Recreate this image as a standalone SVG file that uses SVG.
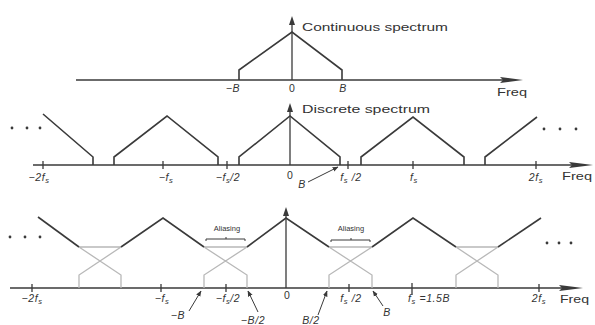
<svg xmlns="http://www.w3.org/2000/svg" width="595" height="325" viewBox="0 0 595 325">
<defs>
<style>
.ax{stroke:#3a3a3a;stroke-width:1.3;fill:none}
.sp{stroke:#3a3a3a;stroke-width:1.6;fill:none;stroke-linejoin:miter}
.gr{stroke:#b8b8b8;stroke-width:1.3;fill:none}
.tk{stroke:#3a3a3a;stroke-width:1.3}
.hd{fill:#3a3a3a;stroke:none}
.t{font-family:"Liberation Sans",Arial,sans-serif;fill:#333333}
.title{font-size:11.5px}
.lab{font-size:10.5px;font-style:italic;letter-spacing:0.6px}
.zero{font-size:10.5px}
.freq{font-size:11px}
.al{font-size:7.5px}
.sub{font-size:7.5px}
.ann{stroke:#3a3a3a;stroke-width:1;fill:none}
.dot{fill:#3a3a3a}
</style>
<marker id="ah" viewBox="0 0 10 10" refX="9" refY="5" markerWidth="6" markerHeight="6" orient="auto">
<path d="M0,1 L10,5 L0,9 Z" fill="#3a3a3a"/>
</marker>
</defs>
<rect width="595" height="325" fill="#ffffff"/>

<!-- TOP: continuous spectrum -->
<g id="top-axis">
<line class="ax" x1="76" y1="80" x2="510" y2="80"/>
<polygon class="hd" points="523,80 500,77 503,80 500,83"/>
<line class="ax" x1="292" y1="80" x2="292" y2="22"/>
<polygon class="hd" points="292,16 289,25 295,25"/>
</g>
<g id="top-spectrum">
<path class="sp" d="M239,80 V70 L292,32 L342,70 V80"/>
</g>
<g id="top-labels">
<text class="t title" x="302" y="31" textLength="146" lengthAdjust="spacingAndGlyphs">Continuous spectrum</text>
<text class="t lab" x="233" y="92" text-anchor="middle">−B</text>
<text class="t zero" x="292" y="92" text-anchor="middle">0</text>
<text class="t lab" x="343" y="92" text-anchor="middle">B</text>
<text class="t freq" x="497" y="96" textLength="30" lengthAdjust="spacingAndGlyphs">Freq</text>
</g>

<!-- MIDDLE: discrete spectrum -->
<g id="mid-axis">
<line class="ax" x1="33" y1="165" x2="580" y2="165"/>
<polygon class="hd" points="593,165 569,162 572,165 569,168"/>
<line class="ax" x1="290" y1="165" x2="290" y2="109"/>
<polygon class="hd" points="290,103 287,112 293,112"/>
<line class="tk" x1="43" y1="161" x2="43" y2="169"/>
<line class="tk" x1="163" y1="161" x2="163" y2="169"/>
<line class="tk" x1="227" y1="161" x2="227" y2="169"/>
<line class="tk" x1="348" y1="161" x2="348" y2="169"/>
<line class="tk" x1="413" y1="161" x2="413" y2="169"/>
<line class="tk" x1="536" y1="161" x2="536" y2="169"/>
</g>
<g id="mid-spectrum">
<path class="sp" d="M43,114 L93,157 V165"/>
<path class="sp" d="M114,165 V157 L167,116 L218,157 V165"/>
<path class="sp" d="M239,165 V157 L290,116 L340,157 V165"/>
<path class="sp" d="M361,165 V157 L413,117 L464,157 V165"/>
<path class="sp" d="M485,165 V157 L537,117"/>
</g>
<g id="mid-dots">
<circle class="dot" cx="12" cy="128" r="1.4"/>
<circle class="dot" cx="27" cy="128" r="1.4"/>
<circle class="dot" cx="40" cy="128" r="1.4"/>
<circle class="dot" cx="544" cy="129" r="1.4"/>
<circle class="dot" cx="560" cy="129" r="1.4"/>
<circle class="dot" cx="576" cy="129" r="1.4"/>
</g>
<g id="mid-labels">
<text class="t title" x="302" y="113" textLength="128" lengthAdjust="spacingAndGlyphs">Discrete spectrum</text>
<text class="t lab" x="39" y="181" text-anchor="middle">−2f<tspan class="sub" dy="2">s</tspan></text>
<text class="t lab" x="166" y="181" text-anchor="middle">−f<tspan class="sub" dy="2">s</tspan></text>
<text class="t lab" x="228" y="181" text-anchor="middle">−f<tspan class="sub" dy="2">s</tspan><tspan dy="-2">/2</tspan></text>
<text class="t zero" x="290" y="179" text-anchor="middle">0</text>
<text class="t lab" x="351" y="181" text-anchor="middle">f<tspan class="sub" dy="2">s</tspan><tspan dy="-2"> /2</tspan></text>
<text class="t lab" x="414" y="181" text-anchor="middle">f<tspan class="sub" dy="2">s</tspan></text>
<text class="t lab" x="536" y="181" text-anchor="middle">2f<tspan class="sub" dy="2">s</tspan></text>
<text class="t freq" x="562" y="180" textLength="30" lengthAdjust="spacingAndGlyphs">Freq</text>
<text class="t lab" x="302" y="188" text-anchor="middle">B</text>
</g>

<!-- BOTTOM: aliasing -->
<g id="bot-axis">
<line class="ax" x1="10" y1="288" x2="570" y2="288"/>
<polygon class="hd" points="583,288 559,285 562,288 559,291"/>
<line class="ax" x1="286" y1="288" x2="286" y2="214"/>
<polygon class="hd" points="286,207 283,216 289,216"/>
<line class="tk" x1="32" y1="284" x2="32" y2="292"/>
<line class="tk" x1="161" y1="284" x2="161" y2="292"/>
<line class="tk" x1="226" y1="284" x2="226" y2="292"/>
<line class="tk" x1="349" y1="284" x2="349" y2="292"/>
<line class="tk" x1="412" y1="283" x2="412" y2="295"/>
<line class="tk" x1="539" y1="284" x2="539" y2="292"/>
</g>
<g id="bot-overlaps">
<path class="gr" d="M79,247 L121,275 V288 M79,288 V275 L121,247 M79,247 H121"/>
<path class="gr" d="M204,247 L247,275 V288 M204,288 V275 L247,247 M204,247 H247"/>
<path class="gr" d="M329,247 L372,275 V288 M329,288 V275 L372,247 M329,247 H372"/>
<path class="gr" d="M456,247 L498,275 V288 M456,288 V275 L498,247 M456,247 H498"/>
</g>
<g id="bot-spectrum">
<path class="sp" d="M38,217 L79,247"/>
<path class="sp" d="M121,247 L163,218 L204,247"/>
<path class="sp" d="M247,247 L286,218 L329,247"/>
<path class="sp" d="M372,247 L413,218 L456,247"/>
<path class="sp" d="M498,247 L541,218"/>
</g>
<g id="bot-dots">
<circle class="dot" cx="10" cy="237" r="1.4"/>
<circle class="dot" cx="25" cy="237" r="1.4"/>
<circle class="dot" cx="40" cy="237" r="1.4"/>
<circle class="dot" cx="547" cy="243" r="1.4"/>
<circle class="dot" cx="559" cy="243" r="1.4"/>
<circle class="dot" cx="571" cy="243" r="1.4"/>
</g>
<g id="aliasing-left">
<text class="t al" x="227" y="231" text-anchor="middle">Aliasing</text>
<path class="ann" d="M206,241 V239 H245 V241 M226,239 V237"/>
</g>
<g id="aliasing-right">
<text class="t al" x="351" y="231" text-anchor="middle">Aliasing</text>
<path class="ann" d="M331,242 V240 H370 V242 M351,240 V238"/>
</g>
<g id="bot-labels">
<text class="t lab" x="32" y="302" text-anchor="middle">−2f<tspan class="sub" dy="2">s</tspan></text>
<text class="t lab" x="162" y="302" text-anchor="middle">−f<tspan class="sub" dy="2">s</tspan></text>
<text class="t lab" x="228" y="302" text-anchor="middle">−f<tspan class="sub" dy="2">s</tspan><tspan dy="-2">/2</tspan></text>
<text class="t zero" x="287" y="299" text-anchor="middle">0</text>
<text class="t lab" x="351" y="302" text-anchor="middle">f<tspan class="sub" dy="2">s</tspan><tspan dy="-2"> /2</tspan></text>
<text class="t lab" x="408" y="302">f<tspan class="sub" dy="2">s</tspan><tspan dy="-2"> =1.5B</tspan></text>
<text class="t lab" x="539" y="302" text-anchor="middle">2f<tspan class="sub" dy="2">s</tspan></text>
<text class="t freq" x="560" y="303" textLength="29" lengthAdjust="spacingAndGlyphs">Freq</text>
<text class="t lab" x="178" y="319" text-anchor="middle">−B</text>
<text class="t lab" x="253" y="324" text-anchor="middle">−B/2</text>
<text class="t lab" x="311" y="324" text-anchor="middle">B/2</text>
<text class="t lab" x="387" y="316" text-anchor="middle">B</text>
</g>

<g id="connectors">
<line class="ann" x1="308" y1="182" x2="338" y2="167" marker-end="url(#ah)"/>
<line class="ann" x1="189" y1="311" x2="201" y2="291" marker-end="url(#ah)"/>
<line class="ann" x1="258" y1="312" x2="248" y2="291" marker-end="url(#ah)"/>
<line class="ann" x1="318" y1="315" x2="327" y2="291" marker-end="url(#ah)"/>
<line class="ann" x1="383" y1="306" x2="373" y2="291" marker-end="url(#ah)"/>
</g>
</svg>
